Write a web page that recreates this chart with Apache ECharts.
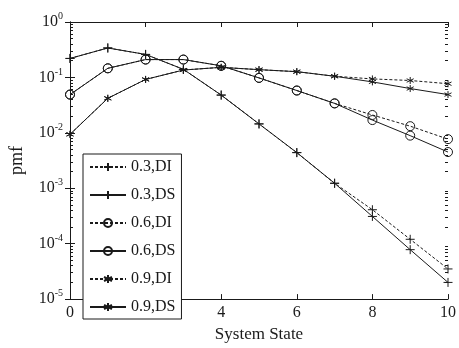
<!DOCTYPE html>
<html>
<head>
<meta charset="utf-8">
<script src="https://cdn.jsdelivr.net/npm/echarts@6/dist/echarts.min.js"></script>
<style>
  html, body { margin: 0; padding: 0; background: #fff; }
  #chart { width: 459px; height: 348px; }
</style>
</head>
<body>
<div id="chart"></div>
<script>
const states = [0, 1, 2, 3, 4, 5, 6, 7, 8, 9, 10];
const xTicks = [0, 2, 4, 6, 8, 10];
const decades = [-5, -4, -3, -2, -1];
const mantissas = [2, 3, 4, 5, 6, 7, 8, 9];

const p03DI = [0.22, 0.34, 0.26, 0.14, 0.048, 0.0145, 0.0044, 0.00123, 0.00041, 0.00012, 0.000035];
const p03DS = [0.22, 0.34, 0.26, 0.14, 0.048, 0.0145, 0.0044, 0.00123, 0.00031, 0.000078, 0.000020];
const p06DI = [0.049, 0.146, 0.21, 0.21, 0.162, 0.098, 0.058, 0.034, 0.021, 0.0132, 0.0077];
const p06DS = [0.049, 0.146, 0.21, 0.21, 0.162, 0.098, 0.058, 0.034, 0.017, 0.0089, 0.0045];
const p09DI = [0.0094, 0.042, 0.092, 0.136, 0.152, 0.138, 0.127, 0.105, 0.094, 0.088, 0.077];
const p09DS = [0.0094, 0.042, 0.092, 0.136, 0.152, 0.138, 0.127, 0.105, 0.083, 0.063, 0.049];

const serif = 'Liberation Serif';
const ink = '#1a1a1a';

const plusSym = 'path://M0,-10L0,10M-10,0L10,0';
const starSym = 'path://M0,-10L0,10M-8.7,-5L8.7,5M-8.7,5L8.7,-5';

// minor log ticks 2..9 x 10^k
const minorVals = [];
decades.forEach(d => mantissas.forEach(m => minorVals.push(+(m * Math.pow(10, d)).toPrecision(3))));

function mk(name, data, symbol, size, dashed) {
  return {
    name: name,
    type: 'line',
    data: states.map((s, i) => [s, data[i]]),
    symbol: symbol,
    symbolSize: size,
    showAllSymbol: true,
    lineStyle: { color: ink, width: 1, type: dashed ? [3, 2] : 'solid' },
    itemStyle: { color: 'none', borderColor: ink, borderWidth: 1 },
    emphasis: { disabled: true }
  };
}

function logAxis(pos, major) {
  return {
    type: 'log',
    logBase: 10,
    position: pos,
    min: 1e-5, max: 1,
    interval: 1,
    axisLine: { show: major, lineStyle: { color: ink } },
    axisTick: major
      ? { inside: true, length: 5, lineStyle: { color: ink } }
      : { inside: true, length: 3, lineStyle: { color: ink }, customValues: minorVals },
    axisLabel: { show: false },
    splitLine: { show: false }
  };
}

const chart = echarts.init(document.getElementById('chart'), null, { renderer: 'canvas' });

const yMain = logAxis('left', true);
yMain.name = 'pmf';
yMain.nameLocation = 'middle';
yMain.nameGap = 44;
yMain.nameTextStyle = { fontFamily: serif, fontSize: 18, color: ink };
yMain.axisLabel = {
  margin: 7,
  formatter: function (v) {
    const e = Math.round(Math.log10(v));
    return '{b|10}{s|' + e + '}';
  },
  rich: {
    b: { fontFamily: serif, fontSize: 16, color: ink },
    s: { fontFamily: serif, fontSize: 10, color: ink, padding: [0, 0, 11, 0] }
  }
};

const option = {
  animation: false,
  backgroundColor: '#fff',
  grid: { left: 68, right: 11, top: 22, bottom: 43 },
  legend: {
    orient: 'vertical',
    left: 83,
    top: 154,
    padding: [5, 6, 4, 6],
    borderColor: ink,
    borderWidth: 1,
    borderRadius: 0,
    backgroundColor: '#fff',
    itemWidth: 36,
    itemHeight: 10,
    itemGap: 12,
    textStyle: { fontFamily: serif, fontSize: 16, color: ink },
    data: ['0.3,DI', '0.3,DS', '0.6,DI', '0.6,DS', '0.9,DI', '0.9,DS']
  },
  xAxis: [{
    type: 'value',
    min: 0, max: 10, interval: 2,
    name: 'System State',
    nameLocation: 'middle',
    nameGap: 25,
    nameTextStyle: { fontFamily: serif, fontSize: 17, color: ink },
    axisLine: { lineStyle: { color: ink } },
    axisTick: { inside: true, length: 5, lineStyle: { color: ink } },
    axisLabel: {
      fontFamily: serif, fontSize: 16, color: ink, margin: 6,
      customValues: xTicks
    },
    splitLine: { show: false }
  }, {
    type: 'value',
    position: 'top',
    min: 0, max: 10, interval: 2,
    axisLine: { lineStyle: { color: ink } },
    axisTick: { inside: true, length: 5, lineStyle: { color: ink } },
    axisLabel: { show: false },
    splitLine: { show: false }
  }],
  yAxis: [
    yMain,
    logAxis('right', true),
    logAxis('left', false),
    logAxis('right', false)
  ],
  series: [
    mk('0.3,DI', p03DI, plusSym, 9, true),
    mk('0.3,DS', p03DS, plusSym, 9, false),
    mk('0.6,DI', p06DI, 'circle', 9, true),
    mk('0.6,DS', p06DS, 'circle', 9, false),
    mk('0.9,DI', p09DI, starSym, 7, true),
    mk('0.9,DS', p09DS, starSym, 7, false)
  ]
};

chart.setOption(option);
</script>
</body>
</html>
